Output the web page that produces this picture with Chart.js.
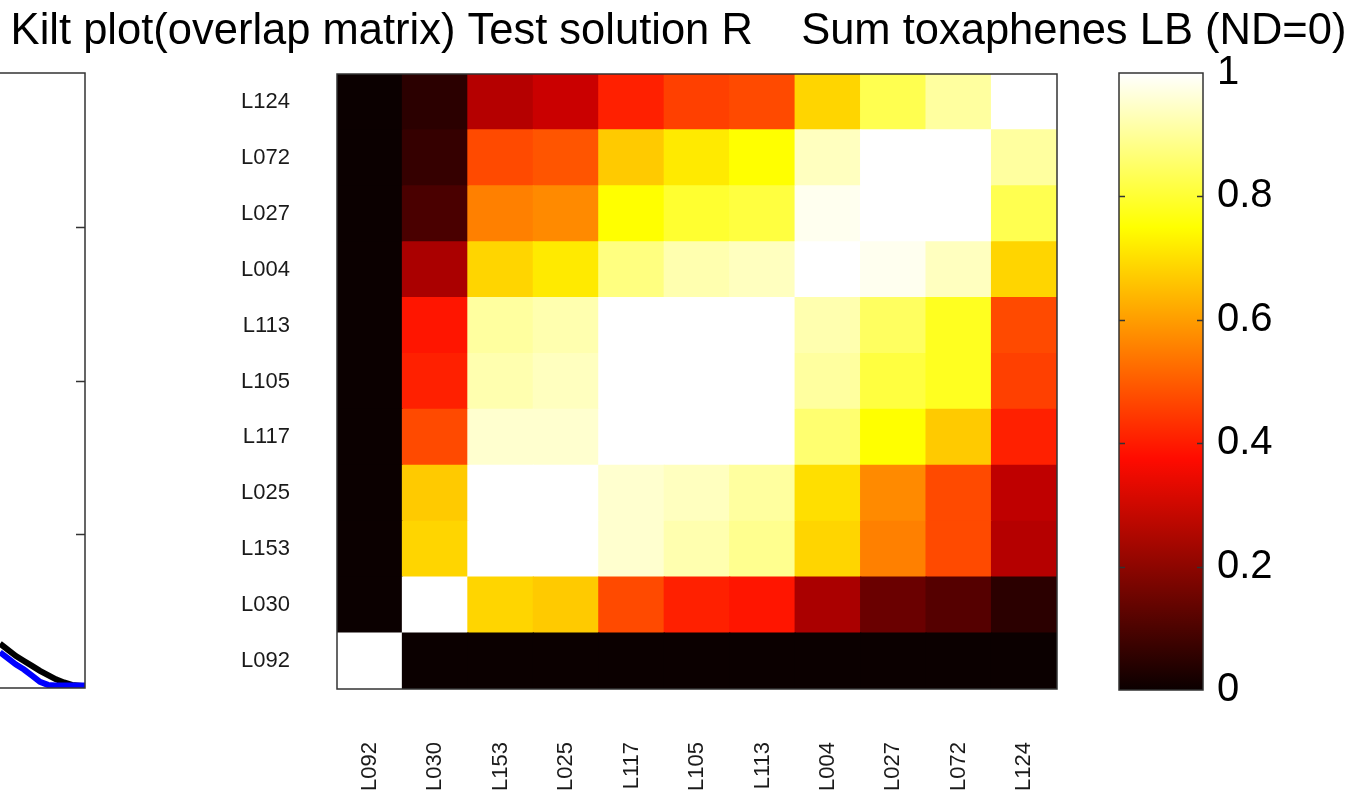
<!DOCTYPE html>
<html>
<head>
<meta charset="utf-8">
<script src="https://cdn.jsdelivr.net/npm/chart.js@4.4.1/dist/chart.umd.min.js"></script>
<style>
  html, body { margin: 0; padding: 0; background: #fff; }
  body { width: 1357px; height: 812px; position: relative; overflow: hidden; }
  canvas { position: absolute; top: 0; }
  #kilt { left: 0; }
  #overlap { left: 0; }
  #cbar { left: 1100px; }
</style>
</head>
<body>
<canvas id="kilt" width="100" height="812"></canvas>
<canvas id="overlap" width="1357" height="812"></canvas>
<canvas id="cbar" width="257" height="812"></canvas>
<script>
// sample order, used for both axes (y from bottom to top, x from left to right)
const samples = ['L092', 'L030', 'L153', 'L025', 'L117', 'L105', 'L113', 'L004', 'L027', 'L072', 'L124'];

// overlap values per row, columns in the same order as samples
const rowL092 = [1.00, 0.00, 0.00, 0.00, 0.00, 0.00, 0.00, 0.00, 0.00, 0.00, 0.00];
const rowL030 = [0.00, 1.00, 0.68, 0.66, 0.48, 0.42, 0.40, 0.235, 0.14, 0.11, 0.05];
const rowL153 = [0.00, 0.69, 1.00, 1.00, 0.95, 0.92, 0.89, 0.69, 0.56, 0.47, 0.26];
const rowL025 = [0.00, 0.66, 1.00, 1.00, 0.96, 0.94, 0.91, 0.705, 0.575, 0.48, 0.27];
const rowL117 = [0.00, 0.48, 0.95, 0.96, 1.00, 1.00, 1.00, 0.86, 0.75, 0.67, 0.42];
const rowL105 = [0.00, 0.42, 0.92, 0.94, 1.00, 1.00, 1.00, 0.91, 0.81, 0.77, 0.46];
const rowL113 = [0.00, 0.40, 0.91, 0.92, 1.00, 1.00, 1.00, 0.92, 0.84, 0.78, 0.48];
const rowL004 = [0.00, 0.235, 0.69, 0.71, 0.875, 0.92, 0.94, 1.00, 0.99, 0.94, 0.69];
const rowL027 = [0.00, 0.09, 0.56, 0.575, 0.75, 0.80, 0.81, 0.98, 1.00, 1.00, 0.83];
const rowL072 = [0.00, 0.07, 0.47, 0.49, 0.67, 0.72, 0.75, 0.94, 1.00, 1.00, 0.91];
const rowL124 = [0.00, 0.047, 0.26, 0.28, 0.42, 0.46, 0.47, 0.69, 0.83, 0.91, 1.00];
const overlapRows = [rowL092, rowL030, rowL153, rowL025, rowL117, rowL105, rowL113, rowL004, rowL027, rowL072, rowL124];

// colour bar range and ticks
const cbarRange = [0, 1];
const cbarTicks = [0, 0.2, 0.4, 0.6, 0.8, 1];

// piece of the neighbouring kilt plot (cut off at the left edge)
const kiltX = [0, 8, 16, 24, 32, 40, 48, 56, 64, 72, 85];
const kiltBlack = [0.072, 0.062, 0.052, 0.044, 0.036, 0.028, 0.021, 0.014, 0.009, 0.005, 0.003];
const kiltBlue = [0.058, 0.048, 0.038, 0.030, 0.020, 0.010, 0.005, 0.004, 0.004, 0.004, 0.004];
const kiltTicks = [0.25, 0.5, 0.75];

const FONT = '"Liberation Sans", Arial, sans-serif';

// matlab "hot" colormap, 64 levels
function hot(v) {
    const i = Math.round(Math.max(0, Math.min(1, v)) * 63) + 1;
    const r = Math.min(1, i / 24);
    const g = Math.max(0, Math.min(1, (i - 24) / 24));
    const b = Math.max(0, Math.min(1, (i - 48) / 16));
    return `rgb(${Math.round(r * 255)},${Math.round(g * 255)},${Math.round(b * 255)})`;
}

const boxFrame = {
    id: 'boxFrame',
    afterDraw(chart) {
        const { ctx, chartArea: a } = chart;
        ctx.save();
        ctx.strokeStyle = '#333';
        ctx.lineWidth = 1.5;
        ctx.strokeRect(a.left, a.top, a.right - a.left, a.bottom - a.top);
        ctx.restore();
    }
};

// heatmap: one stacked bar series per row, each cell one unit tall
new Chart(document.getElementById('overlap'), {
    type: 'bar',
    data: {
        labels: samples,
        datasets: overlapRows.map((row, r) => ({
            label: samples[r],
            data: samples.map(() => 1),
            backgroundColor: row.map(hot),
            borderWidth: 0,
            inflateAmount: 0.6,
            barPercentage: 1,
            categoryPercentage: 1
        }))
    },
    options: {
        responsive: false,
        animation: false,
        layout: { padding: 0 },
        plugins: {
            legend: { display: false },
            tooltip: { enabled: false },
            title: {
                display: true,
                text: 'Kilt plot(overlap matrix) Test solution R    Sum toxaphenes LB (ND=0)',
                color: '#000',
                font: { family: FONT, size: 43.5, weight: 'normal' },
                padding: { top: 6, bottom: 15.8 }
            }
        },
        scales: {
            x: {
                stacked: true,
                afterFit: s => { s.height = 123; },
                ticks: {
                    autoSkip: false, maxRotation: 90, minRotation: 90, padding: 53,
                    color: '#1a1a1a', font: { family: FONT, size: 22 }
                },
                grid: { display: false, drawTicks: false },
                border: { display: false }
            },
            y: {
                type: 'linear',
                stacked: true,
                min: 0,
                max: samples.length,
                afterBuildTicks: s => { s.ticks = samples.map((_, i) => ({ value: i + 0.5 })); },
                afterFit: s => { s.width = 337; },
                ticks: {
                    callback: v => samples[Math.floor(v)],
                    padding: 47, color: '#1a1a1a', font: { family: FONT, size: 22 }
                },
                grid: { display: false, drawTicks: false },
                border: { display: false }
            },
            // empty right axis that keeps room for the colour bar
            yRight: {
                type: 'linear',
                position: 'right',
                min: 0,
                max: samples.length,
                afterFit: s => { s.width = 300; },
                ticks: { display: false },
                grid: { display: false, drawTicks: false },
                border: { display: false }
            }
        }
    },
    plugins: [boxFrame]
});

// colour bar
const cbarTickMarks = {
    id: 'cbarTickMarks',
    afterDraw(chart) {
        const { ctx, chartArea: a, scales: { y } } = chart;
        ctx.save();
        ctx.strokeStyle = '#333';
        ctx.lineWidth = 1.5;
        cbarTicks.slice(1, -1).forEach(t => {
            const py = Math.round(y.getPixelForValue(t)) + 0.5;
            ctx.beginPath();
            ctx.moveTo(a.left, py); ctx.lineTo(a.left + 6, py);
            ctx.moveTo(a.right, py); ctx.lineTo(a.right - 6, py);
            ctx.stroke();
        });
        ctx.restore();
    }
};

new Chart(document.getElementById('cbar'), {
    type: 'bar',
    data: {
        labels: [''],
        datasets: [{
            data: [cbarRange],
            backgroundColor: ctx => {
                const a = ctx.chart.chartArea;
                if (!a) return '#000';
                const g = ctx.chart.ctx.createLinearGradient(0, a.bottom, 0, a.top);
                g.addColorStop(0, hot(0));
                g.addColorStop(0.375, hot(0.375));
                g.addColorStop(0.75, hot(0.75));
                g.addColorStop(1, hot(1));
                return g;
            },
            borderWidth: 0,
            barPercentage: 1,
            categoryPercentage: 1
        }]
    },
    options: {
        responsive: false,
        animation: false,
        layout: { padding: { left: 19, top: 73, bottom: 122, right: 0 } },
        plugins: { legend: { display: false }, tooltip: { enabled: false } },
        scales: {
            x: { display: false },
            y: {
                position: 'right',
                min: cbarRange[0],
                max: cbarRange[1],
                afterBuildTicks: s => { s.ticks = cbarTicks.map(v => ({ value: v })); },
                afterFit: s => { s.width = 154; },
                ticks: {
                    padding: 14, color: '#000', font: { family: FONT, size: 40 },
                    callback: v => String(+v.toFixed(1))
                },
                grid: { display: false, drawTicks: false },
                border: { display: false }
            }
        }
    },
    plugins: [boxFrame, cbarTickMarks]
});

// neighbouring plot, only its right edge is visible
const kiltFrame = {
    id: 'kiltFrame',
    afterDraw(chart) {
        const { ctx, chartArea: a, scales: { y } } = chart;
        ctx.save();
        ctx.strokeStyle = '#333';
        ctx.lineWidth = 1.5;
        ctx.beginPath();
        ctx.moveTo(0, a.top); ctx.lineTo(a.right, a.top);
        ctx.lineTo(a.right, a.bottom); ctx.lineTo(0, a.bottom);
        kiltTicks.forEach(t => {
            const py = Math.round(y.getPixelForValue(t)) + 0.5;
            ctx.moveTo(a.right, py); ctx.lineTo(a.right - 9, py);
        });
        ctx.stroke();
        ctx.restore();
    }
};

new Chart(document.getElementById('kilt'), {
    type: 'scatter',
    data: {
        datasets: [
            { data: kiltX.map((x, i) => ({ x, y: kiltBlue[i] })), borderColor: '#0000ff', borderWidth: 6, showLine: true, pointRadius: 0 },
            { data: kiltX.map((x, i) => ({ x, y: kiltBlack[i] })), borderColor: '#000', borderWidth: 6, showLine: true, pointRadius: 0 }
        ]
    },
    options: {
        responsive: false,
        animation: false,
        layout: { padding: { left: 0, right: 15, top: 73, bottom: 124 } },
        plugins: { legend: { display: false }, tooltip: { enabled: false } },
        scales: {
            x: { display: false, min: 0, max: 85 },
            y: { display: false, min: 0, max: 1 }
        }
    },
    plugins: [kiltFrame]
});
</script>
</body>
</html>
